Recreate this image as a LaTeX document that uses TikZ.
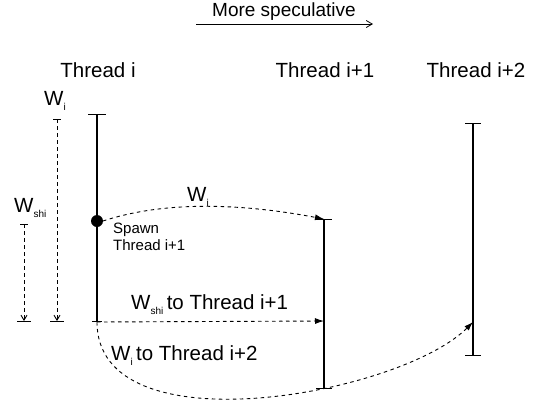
\documentclass[tikz,border=0pt]{standalone}
\usepackage{fontspec}
\setmainfont{Liberation Sans}
\usetikzlibrary{arrows.meta,calc}

% W with a small lowered index
\newcommand{\wlab}[1]{W\raisebox{-5pt}{\fontsize{10}{10}\selectfont #1}}

\begin{document}
\begin{tikzpicture}[x=1pt,y=-1pt,
  thread/.style={line width=1.1pt},
  msg/.style={dashed,dash pattern=on 3.5pt off 3.5pt,line width=0.9pt,-{Latex[length=9pt,width=6pt]}},
  dim/.style={dashed,dash pattern=on 3.5pt off 3.5pt,line width=0.9pt,-{Straight Barb[length=5pt,width=6pt]}},
  big/.style={font=\fontsize{20.5}{22}\selectfont},
  spec/.style={font=\fontsize{19}{21}\selectfont},
  small/.style={font=\fontsize{15}{17}\selectfont}]
\useasboundingbox (0,0) rectangle (536,402);

% direction of speculation
\node[spec] (spec) at (284,12) {More speculative};
\coordinate (s1) at (196,24); \coordinate (s2) at (373,24);
\draw[line width=0.8pt,-{Straight Barb[length=6pt,width=7pt]}] (s1) -- (s2);

% thread headers
\node[big] (hi) at (98,70) {Thread i};
\node[big] (hj) at (325,70) {Thread i+1};
\node[big] (hk) at (476,70) {Thread i+2};

% thread time lines
\coordinate (A1) at (97,114); \coordinate (A2) at (97,322);
\coordinate (B1) at (324,219); \coordinate (B2) at (324,388);
\coordinate (C1) at (473,123); \coordinate (C2) at (473,355);
\draw[thread] (A1) -- (A2);
\draw[thread] (B1) -- (B2);
\draw[thread] (C1) -- (C2);
\foreach \p/\w in {A1/9,B1/8,B2/8,C1/8,C2/8}{\draw[line width=1pt] ($(\p)+(-\w,0)$) -- ($(\p)+(\w,0)$);}
\draw[line width=0.8pt] ($(A2)+(-5,-1)$) -- ($(A2)+(5,-1)$);

% spawn point
\coordinate (S) at (97,221);
\fill (S) circle (6);
\node[small,align=left,anchor=north west,inner sep=0pt] (sp) at (113,223) {Spawn\\Thread i+1};

% work size bars
\coordinate (Wt) at (57,119); \coordinate (Wb) at (57,321);
\coordinate (Vt) at (24,224); \coordinate (Vb) at (24,321);
\draw[dim] (Wt) -- (Wb);
\draw[dim] (Vt) -- (Vb);
\foreach \p/\w in {Wt/4,Vt/4,Wb/7,Vb/7}{\draw[line width=0.9pt] ($(\p)+(-\w,0)$) -- ($(\p)+(\w,0)$);}
\node[big,inner sep=0pt,anchor=west] (wi) at (44,101) {\wlab{i}};
\node[big,inner sep=0pt,anchor=west] (wshi) at (14,208) {\wlab{shi}};

% messages between threads
\draw[msg] ($(S)+(6,0)$) .. controls (170,199) and (250,205) .. (B1);
\node[big,inner sep=0pt,anchor=west] (m1) at (187,197) {\wlab{i}};
\draw[msg] (A2) -- ($(B1)+(0,102)$);
\node[big,inner sep=0pt,anchor=west] (m2) at (131,305) {\wlab{shi}\,to Thread i+1};
\draw[msg] (A2) .. controls (97,450) and (400,395) .. ($(C1)+(0,199)$);
\node[big,inner sep=0pt,anchor=west] (m3) at (111,356) {\wlab{i}\,to Thread i+2};
\end{tikzpicture}
\end{document}
